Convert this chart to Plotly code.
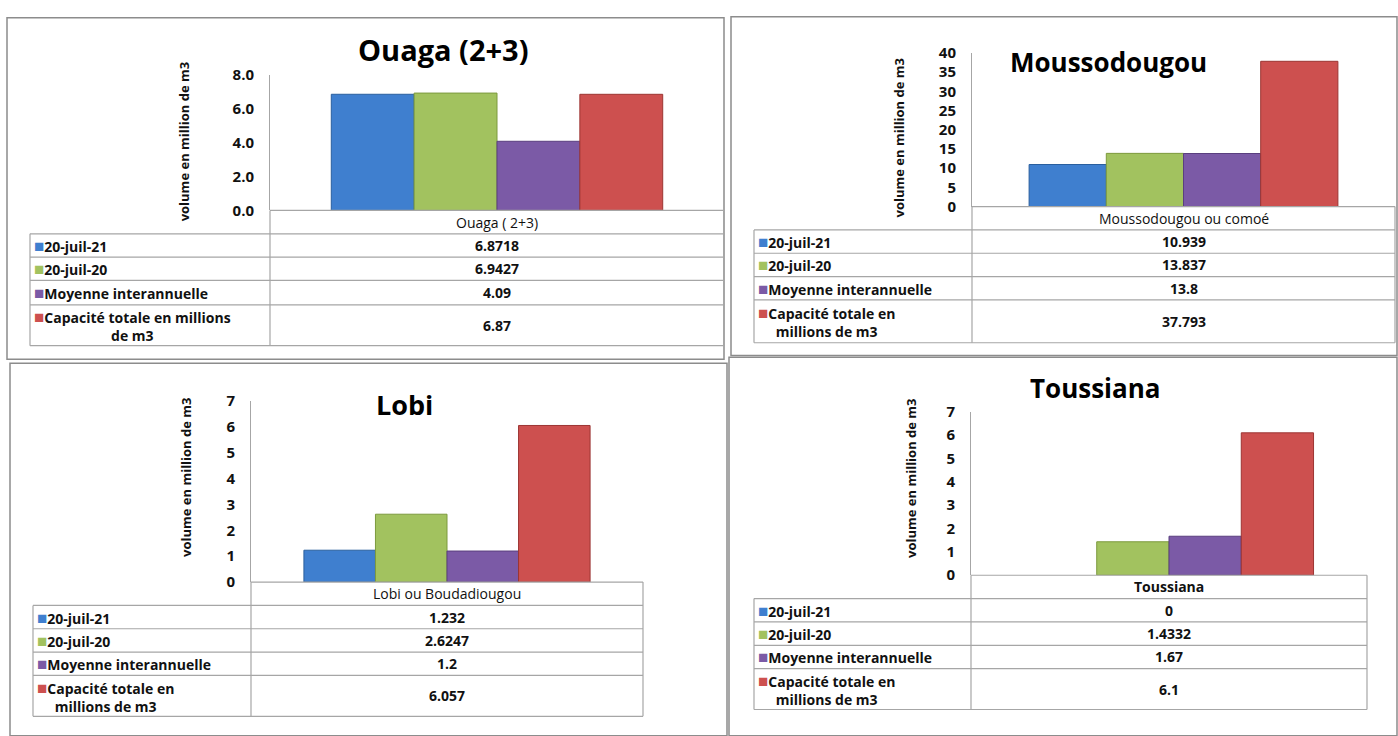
import plotly.graph_objects as go

W, H = 1398, 736

# ---------------- data ----------------
series_names = ["20-juil-21", "20-juil-20", "Moyenne interannuelle",
                "Capacité totale en millions de m3"]
panel_titles = ["Ouaga (2+3)", "Moussodougou", "Lobi", "Toussiana"]
categories = ["Ouaga ( 2+3)", "Moussodougou ou comoé", "Lobi ou Boudadiougou", "Toussiana"]
juil_21 = [6.8718, 10.939, 1.232, 0]
juil_20 = [6.9427, 13.837, 2.6247, 1.4332]
moyenne_interannuelle = [4.09, 13.8, 1.2, 1.67]
capacite_totale = [6.87, 37.793, 6.057, 6.1]
y_max = [8, 40, 7, 7]
y_dtick = [2, 5, 1, 1]
y_tickformat = [".1f", "d", "d", "d"]
y_title = "volume en million de m3"

series_values = [juil_21, juil_20, moyenne_interannuelle, capacite_totale]

# ---------------- style / layout (pixel positions) ----------------
colors = ["#3F7FCF", "#A2C25F", "#7B5AA6", "#CD504F"]
outlines = ["#2A5F9E", "#7D9A3E", "#5A3F7F", "#9C3533"]
FONT = "Open Sans"
GRID = "#a6a6a6"
BORDER = "#8c8c8c"

panels = [
    dict(box=(7, 7, 724, 358), plot=(270, 724, 66, 205),
         rows=[205, 229, 253, 277, 302, 344], tbl_left=30,
         title=(444, 40, 29), ytitle=(184, 135), header_bold=False,
         cap_label="Capacité totale en millions<br>de m3"),
    dict(box=(731, 6, 1397, 354), plot=(972, 1395, 43, 201),
         rows=[201, 225, 249, 273, 297, 341], tbl_left=754,
         title=(1108, 52, 26), ytitle=(899, 131), header_bold=False,
         cap_label="Capacité totale en<br>millions de m3"),
    dict(box=(10, 362, 727, 745), plot=(251, 643, 401, 587),
         rows=[587, 611, 635, 659, 683, 725], tbl_left=33,
         title=(404, 404, 27), ytitle=(186, 480), header_bold=False,
         cap_label="Capacité totale en<br>millions de m3"),
    dict(box=(729, 356, 1397, 745), plot=(971, 1367, 412, 580),
         rows=[580, 604, 628, 652, 676, 718], tbl_left=754,
         title=(1095, 388, 26), ytitle=(911, 481), header_bold=True,
         cap_label="Capacité totale en<br>millions de m3"),
]


def px(x):
    return x / W


def py(y):
    return 1 - y / H


fig = go.Figure()
shapes = []
annotations = []

for i, p in enumerate(panels):
    ax = "" if i == 0 else str(i + 1)
    x0, x1, ytop, ybot = p["plot"]
    for s in range(4):
        v = series_values[s][i]
        fig.add_trace(go.Bar(
            x=[categories[i]], y=[v], name=series_names[s],
            xaxis="x" + ax, yaxis="y" + ax,
            marker=dict(color=colors[s],
                        line=dict(color=outlines[s], width=1 if v > 0 else 0)),
            showlegend=False, hoverinfo="skip",
        ))
    fig.layout["xaxis" + ax] = dict(
        domain=[px(x0), px(x1)], anchor="y" + ax, type="category",
        showticklabels=False, showline=False, showgrid=False, zeroline=False,
        fixedrange=True)
    fig.layout["yaxis" + ax] = dict(
        domain=[py(ybot), py(ytop)], anchor="x" + ax, range=[0, y_max[i]],
        dtick=y_dtick[i], tick0=0, tickformat=y_tickformat[i],
        showline=True, linecolor=GRID, linewidth=1, showgrid=False,
        zeroline=False, ticks="", ticklabelstandoff=12,
        tickfont=dict(family=FONT, size=15, color="#111", weight="bold"),
        fixedrange=True)

    # panel border
    bx0, by0, bx1, by1 = p["box"]
    shapes.append(dict(type="rect", xref="paper", yref="paper",
                       x0=px(bx0), x1=px(bx1), y0=py(by1), y1=py(by0),
                       line=dict(color=BORDER, width=1.5), layer="below"))

    # data table grid
    rows = p["rows"]
    tl = p["tbl_left"]
    line = dict(color=GRID, width=1.2)
    shapes.append(dict(type="line", xref="paper", yref="paper",
                       x0=px(x0), x1=px(x1), y0=py(rows[0]), y1=py(rows[0]), line=line))
    for r in rows[1:]:
        shapes.append(dict(type="line", xref="paper", yref="paper",
                           x0=px(tl), x1=px(x1), y0=py(r), y1=py(r), line=line))
    shapes.append(dict(type="line", xref="paper", yref="paper",
                       x0=px(x0), x1=px(x0), y0=py(rows[0]), y1=py(rows[-1]), line=line))
    shapes.append(dict(type="line", xref="paper", yref="paper",
                       x0=px(x1), x1=px(x1), y0=py(rows[0]), y1=py(rows[-1]), line=line))
    shapes.append(dict(type="line", xref="paper", yref="paper",
                       x0=px(tl), x1=px(tl), y0=py(rows[1]), y1=py(rows[-1]), line=line))

    # header (category) text
    hdr = f"<b>{categories[i]}</b>" if p["header_bold"] else categories[i]
    annotations.append(dict(xref="paper", yref="paper", x=px((x0 + x1) / 2),
                            y=py((rows[0] + rows[1]) / 2), text=hdr, showarrow=False,
                            xanchor="center", yanchor="middle",
                            font=dict(family=FONT, size=14, color="#111")))
    # series rows
    for s in range(4):
        ymid = py((rows[s + 1] + rows[s + 2]) / 2)
        lab = series_names[s] if s < 3 else p["cap_label"]
        annotations.append(dict(
            xref="paper", yref="paper", x=px(tl + 2), y=ymid,
            text=f"<span style='color:{colors[s]};font-size:17px'>■</span>{lab}",
            showarrow=False, xanchor="left", yanchor="middle", align="center",
            font=dict(family=FONT, size=14, color="#111", weight="bold")))
        annotations.append(dict(
            xref="paper", yref="paper", x=px((x0 + x1) / 2), y=ymid,
            text=f"{series_values[s][i]:g}", showarrow=False,
            xanchor="center", yanchor="middle",
            font=dict(family=FONT, size=14, color="#111", weight="bold")))

    # panel title
    tx, ty, ts = p["title"]
    annotations.append(dict(xref="paper", yref="paper", x=px(tx), y=py(ty),
                            text=panel_titles[i], showarrow=False,
                            xanchor="center", yanchor="middle",
                            font=dict(family=FONT, size=ts, color="#000", weight="bold")))
    # y axis title
    yx, yy = p["ytitle"]
    annotations.append(dict(xref="paper", yref="paper", x=px(yx), y=py(yy),
                            text=y_title, showarrow=False, textangle=-90,
                            xanchor="center", yanchor="middle",
                            font=dict(family=FONT, size=13, color="#111", weight="bold")))

fig.update_layout(
    width=W, height=H, margin=dict(l=0, r=0, t=0, b=0),
    paper_bgcolor="white", plot_bgcolor="rgba(0,0,0,0)",
    barmode="group", bargap=0.27, bargroupgap=0,
    shapes=shapes, annotations=annotations, showlegend=False,
    hovermode=False,
)

fig.write_html(
    "out.html",
    config={"displayModeBar": False},
    post_script="document.body.style.margin='0';document.body.style.overflow='hidden';",
)
